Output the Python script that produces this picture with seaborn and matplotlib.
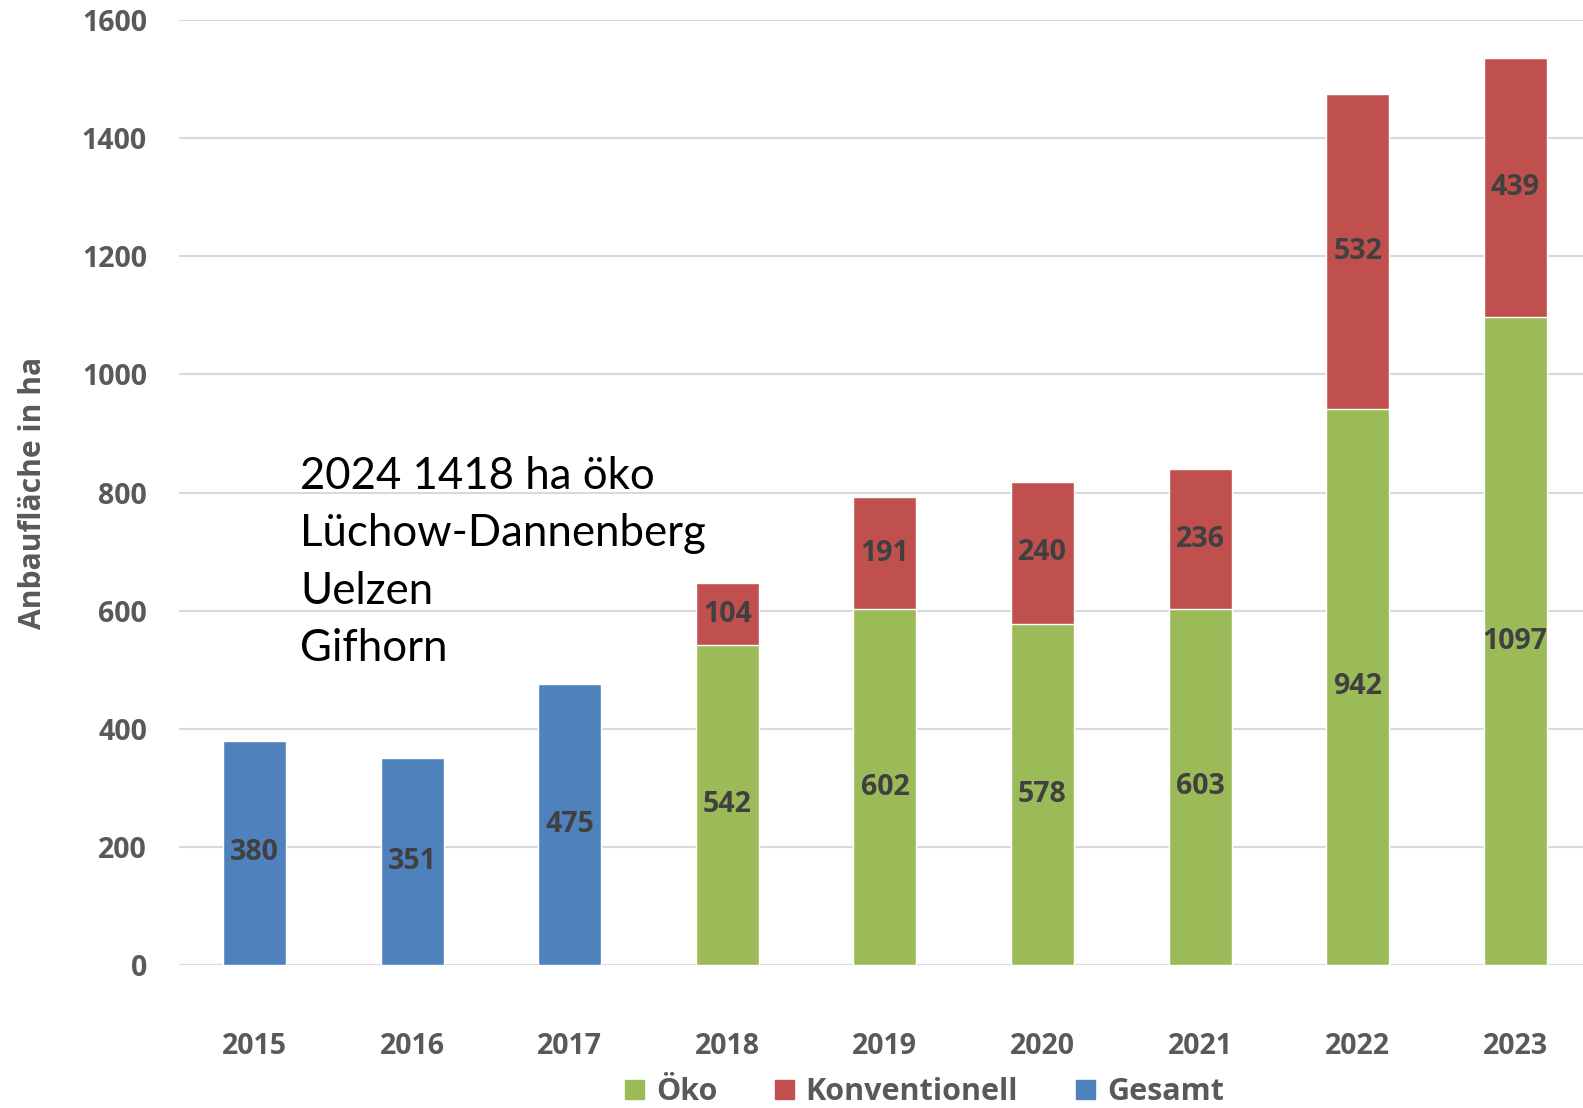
import matplotlib
matplotlib.use("Agg")
import matplotlib.pyplot as plt
from matplotlib.patches import Patch
import pandas as pd
import seaborn as sns

YEARS = ["2015", "2016", "2017", "2018", "2019", "2020", "2021", "2022", "2023"]
GESAMT_YEARS = ["2015", "2016", "2017"]
GESAMT = [380, 351, 475]
SPLIT_YEARS = ["2018", "2019", "2020", "2021", "2022", "2023"]
OEKO = [542, 602, 578, 603, 942, 1097]
KONV = [104, 191, 240, 236, 532, 439]
NOTE_LINES = ["2024 1418 ha öko", "Lüchow-Dannenberg", "Uelzen", "Gifhorn"]

GREEN = "#9BBB59"
RED = "#C0504D"
BLUE = "#4F81BD"
LABEL_COLOR = "#404040"
TICK_COLOR = "#595959"
BOLD_FONT = ["Open Sans", "DejaVu Sans"]

sns.set_theme(style="white")
plt.rcParams["font.family"] = ["Lato", "DejaVu Sans"]

gesamt_df = pd.DataFrame({"Jahr": GESAMT_YEARS, "ha": GESAMT})
split_df = pd.DataFrame({"Jahr": SPLIT_YEARS, "oeko": OEKO, "konv": KONV})
split_df["total"] = split_df["oeko"] + split_df["konv"]

fig = plt.figure(figsize=(15.83, 11.08), dpi=100)
ax = fig.add_axes([0.113, 0.129, 0.887, 0.853])

# stacked bars: total in red first, Öko on top of it in green
sns.barplot(data=split_df, x="Jahr", y="total", order=YEARS, color=RED,
            saturation=1, width=0.4, errorbar=None, ax=ax)
sns.barplot(data=split_df, x="Jahr", y="oeko", order=YEARS, color=GREEN,
            saturation=1, width=0.4, errorbar=None, ax=ax)
sns.barplot(data=gesamt_df, x="Jahr", y="ha", order=YEARS, color=BLUE,
            saturation=1, width=0.4, errorbar=None, ax=ax)

lab_kw = dict(ha="center", va="center", fontsize=20.5, fontweight="bold",
              color=LABEL_COLOR, family=BOLD_FONT)
for year, val in zip(GESAMT_YEARS, GESAMT):
    ax.text(YEARS.index(year), val / 2, str(val), **lab_kw)
for year, oe, ko in zip(SPLIT_YEARS, OEKO, KONV):
    i = YEARS.index(year)
    ax.text(i, oe / 2, str(oe), **lab_kw)
    ax.text(i, oe + ko / 2, str(ko), **lab_kw)

ax.text(0.29, 862, "\n".join(NOTE_LINES), ha="left", va="top", fontsize=31.5,
        color="black", linespacing=1.5)

ax.set_ylim(0, 1600)
ax.set_xlim(-0.48, 8.43)
ax.set_yticks(range(0, 1601, 200))
ax.yaxis.grid(True, color="#d9d9d9", linewidth=1.5)
ax.set_axisbelow(True)
for s in ax.spines.values():
    s.set_visible(False)
ax.axhline(0, color="#d9d9d9", linewidth=1.5, zorder=0.5)

ax.tick_params(axis="x", length=0, pad=48, labelsize=20.5, labelcolor=TICK_COLOR)
ax.tick_params(axis="y", length=0, pad=23, labelsize=20.5, labelcolor=TICK_COLOR)
for lbl in ax.get_xticklabels() + ax.get_yticklabels():
    lbl.set_fontweight("bold")
    lbl.set_family(BOLD_FONT)

ax.set_xlabel("")
ax.set_ylabel("Anbaufläche in ha", fontsize=21.7, fontweight="bold", color=TICK_COLOR,
              family=BOLD_FONT)
ax.yaxis.set_label_coords(-0.093, 0.5)

handles = [Patch(color=GREEN, label="Öko"), Patch(color=RED, label="Konventionell"),
           Patch(color=BLUE, label="Gesamt")]
leg = fig.legend(handles=handles, loc="center", bbox_to_anchor=(0.584, 0.014), ncol=3,
                 frameon=False, handlelength=0.6, handleheight=0.6,
                 handletextpad=0.4, columnspacing=1.9,
                 prop={"family": BOLD_FONT, "weight": "bold", "size": 22})
for t in leg.get_texts():
    t.set_color(TICK_COLOR)

fig.savefig("out.png", dpi=100)
